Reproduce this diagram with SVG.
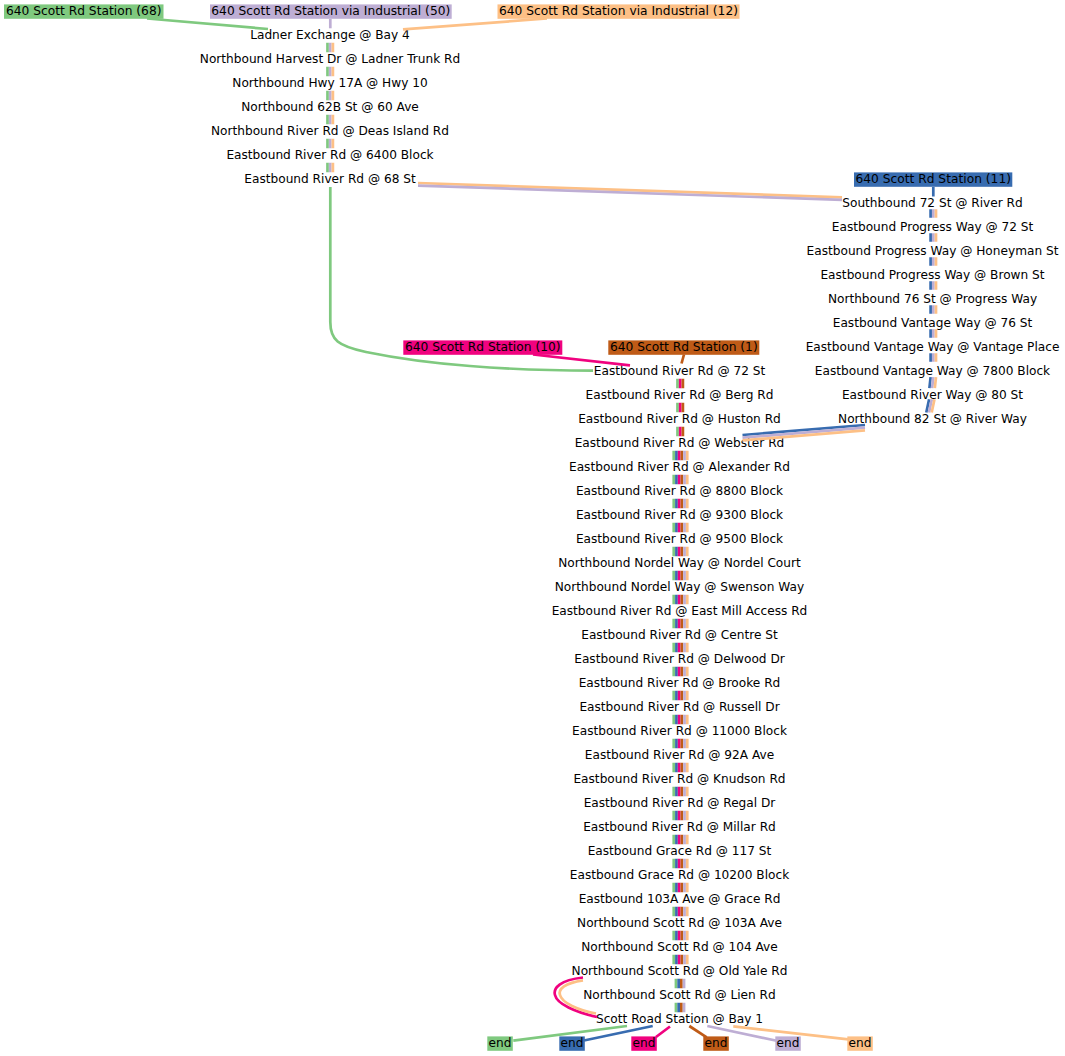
<svg xmlns="http://www.w3.org/2000/svg" width="1065" height="1056" viewBox="0 0 1065 1056">
<style>
text{font-family:"DejaVu Sans","Liberation Sans",sans-serif;font-size:12.15px;fill:#000;text-anchor:middle}
.hd text{font-size:12.25px}
.ln{fill:none;stroke-width:2.7}
.bar{fill:none;stroke-width:2.7}
.lft{stroke-dasharray:9.5 14.5}
.rgt{stroke-dasharray:8.5 15.5}
.g{stroke:#7fc97f}.p{stroke:#beaed4}.o{stroke:#fdc086}.b{stroke:#386cb0}.m{stroke:#f0027f}.r{stroke:#bf5b17}
.fg{fill:#7fc97f}.fp{fill:#beaed4}.fo{fill:#fdc086}.fb{fill:#386cb0}.fm{fill:#f0027f}.fr{fill:#bf5b17}
</style>
<rect width="1065" height="1056" fill="#fff"/>
<g id="nodes">
<g id="start-68" class="hd"><rect class="fg" x="4" y="4.4" width="159.5" height="14.4"/><text x="83.7" y="14.6">640 Scott Rd Station (68)</text></g>
<g id="start-50" class="hd"><rect class="fp" x="210" y="4.4" width="241.7" height="14.4"/><text x="330.8" y="14.6">640 Scott Rd Station via Industrial (50)</text></g>
<g id="start-12" class="hd"><rect class="fo" x="497.5" y="4.4" width="242" height="14.4"/><text x="618.5" y="14.6">640 Scott Rd Station via Industrial (12)</text></g>
<g id="start-11" class="hd"><rect class="fb" x="854" y="172.4" width="158.3" height="14.4"/><text x="933.2" y="182.6">640 Scott Rd Station (11)</text></g>
<g id="start-10" class="hd"><rect class="fm" x="403.3" y="340.4" width="159" height="14.4"/><text x="482.8" y="350.6">640 Scott Rd Station (10)</text></g>
<g id="start-1" class="hd"><rect class="fr" x="608.3" y="340.4" width="151" height="14.4"/><text x="683.8" y="350.6">640 Scott Rd Station (1)</text></g>

<g id="s-ladner"><text x="330" y="38.6">Ladner Exchange @ Bay 4</text></g>
<g id="s-harvest"><text x="330" y="62.6">Northbound Harvest Dr @ Ladner Trunk Rd</text></g>
<g id="s-hwy17a"><text x="330" y="86.6">Northbound Hwy 17A @ Hwy 10</text></g>
<g id="s-62b"><text x="330" y="110.6">Northbound 62B St @ 60 Ave</text></g>
<g id="s-deas"><text x="330" y="134.6">Northbound River Rd @ Deas Island Rd</text></g>
<g id="s-6400"><text x="330" y="158.6">Eastbound River Rd @ 6400 Block</text></g>
<g id="s-68st"><text x="330" y="182.6">Eastbound River Rd @ 68 St</text></g>

<g id="s-sb72"><text x="932.5" y="206.6">Southbound 72 St @ River Rd</text></g>
<g id="s-prog72"><text x="932.5" y="230.6">Eastbound Progress Way @ 72 St</text></g>
<g id="s-honeyman"><text x="932.5" y="254.6">Eastbound Progress Way @ Honeyman St</text></g>
<g id="s-brown"><text x="932.5" y="278.6">Eastbound Progress Way @ Brown St</text></g>
<g id="s-76prog"><text x="932.5" y="302.6">Northbound 76 St @ Progress Way</text></g>
<g id="s-vant76"><text x="932.5" y="326.6">Eastbound Vantage Way @ 76 St</text></g>
<g id="s-vantpl"><text x="932.5" y="350.6">Eastbound Vantage Way @ Vantage Place</text></g>
<g id="s-7800"><text x="932.5" y="374.6">Eastbound Vantage Way @ 7800 Block</text></g>
<g id="s-rw80"><text x="932.5" y="398.6">Eastbound River Way @ 80 St</text></g>
<g id="s-82st"><text x="932.5" y="422.6">Northbound 82 St @ River Way</text></g>

<g id="s-72st"><text x="679.5" y="374.6">Eastbound River Rd @ 72 St</text></g>
<g id="s-berg"><text x="679.5" y="398.6">Eastbound River Rd @ Berg Rd</text></g>
<g id="s-huston"><text x="679.5" y="422.6">Eastbound River Rd @ Huston Rd</text></g>
<g id="s-webster"><text x="679.5" y="446.6">Eastbound River Rd @ Webster Rd</text></g>
<g id="s-alexander"><text x="679.5" y="470.6">Eastbound River Rd @ Alexander Rd</text></g>
<g id="s-8800"><text x="679.5" y="494.6">Eastbound River Rd @ 8800 Block</text></g>
<g id="s-9300"><text x="679.5" y="518.6">Eastbound River Rd @ 9300 Block</text></g>
<g id="s-9500"><text x="679.5" y="542.6">Eastbound River Rd @ 9500 Block</text></g>
<g id="s-nordel"><text x="679.5" y="566.6">Northbound Nordel Way @ Nordel Court</text></g>
<g id="s-swenson"><text x="679.5" y="590.6">Northbound Nordel Way @ Swenson Way</text></g>
<g id="s-eastmill"><text x="679.5" y="614.6">Eastbound River Rd @ East Mill Access Rd</text></g>
<g id="s-centre"><text x="679.5" y="638.6">Eastbound River Rd @ Centre St</text></g>
<g id="s-delwood"><text x="679.5" y="662.6">Eastbound River Rd @ Delwood Dr</text></g>
<g id="s-brooke"><text x="679.5" y="686.6">Eastbound River Rd @ Brooke Rd</text></g>
<g id="s-russell"><text x="679.5" y="710.6">Eastbound River Rd @ Russell Dr</text></g>
<g id="s-11000"><text x="679.5" y="734.6">Eastbound River Rd @ 11000 Block</text></g>
<g id="s-92a"><text x="679.5" y="758.6">Eastbound River Rd @ 92A Ave</text></g>
<g id="s-knudson"><text x="679.5" y="782.6">Eastbound River Rd @ Knudson Rd</text></g>
<g id="s-regal"><text x="679.5" y="806.6">Eastbound River Rd @ Regal Dr</text></g>
<g id="s-millar"><text x="679.5" y="830.6">Eastbound River Rd @ Millar Rd</text></g>
<g id="s-grace117"><text x="679.5" y="854.6">Eastbound Grace Rd @ 117 St</text></g>
<g id="s-grace10200"><text x="679.5" y="878.6">Eastbound Grace Rd @ 10200 Block</text></g>
<g id="s-103a"><text x="679.5" y="902.6">Eastbound 103A Ave @ Grace Rd</text></g>
<g id="s-scott103a"><text x="679.5" y="926.6">Northbound Scott Rd @ 103A Ave</text></g>
<g id="s-scott104"><text x="679.5" y="950.6">Northbound Scott Rd @ 104 Ave</text></g>
<g id="s-oldyale"><text x="679.5" y="974.6">Northbound Scott Rd @ Old Yale Rd</text></g>
<g id="s-lien"><text x="679.5" y="998.6">Northbound Scott Rd @ Lien Rd</text></g>
<g id="s-bay1"><text x="679.5" y="1022.6">Scott Road Station @ Bay 1</text></g>

<g id="end-68"><rect class="fg" x="487.3" y="1036.4" width="25.5" height="14.4"/><text x="500" y="1046.6">end</text></g>
<g id="end-11"><rect class="fb" x="559.3" y="1036.4" width="25.5" height="14.4"/><text x="572" y="1046.6">end</text></g>
<g id="end-10"><rect class="fm" x="631.3" y="1036.4" width="25.5" height="14.4"/><text x="644" y="1046.6">end</text></g>
<g id="end-1"><rect class="fr" x="703.3" y="1036.4" width="25.5" height="14.4"/><text x="716" y="1046.6">end</text></g>
<g id="end-50"><rect class="fp" x="775.3" y="1036.4" width="25.5" height="14.4"/><text x="788" y="1046.6">end</text></g>
<g id="end-12"><rect class="fo" x="847.3" y="1036.4" width="25.5" height="14.4"/><text x="860" y="1046.6">end</text></g>
</g>

<g id="connectors">
<path class="ln g" d="M147,18.5 L268,29"/>
<path class="ln p" d="M330.3,19 V28.3"/>
<path class="ln o" d="M547,18.5 L403,29.3"/>
<path class="ln b" d="M933.3,187 V196.5"/>
<path class="ln m" d="M533,354.5 L630,365.3"/>
<path class="ln r" d="M684,354.5 L681.5,363.5"/>
<path class="bar lft g" d="M327.5,42.7 V172.2"/>
<path class="bar lft p" d="M330.2,42.7 V172.2"/>
<path class="bar lft o" d="M332.9,42.7 V172.2"/>
<path class="ln o" d="M418,183 L842,197.3"/>
<path class="ln p" d="M418,185.6 L842,199.9"/>
<path class="ln g" d="M330.3,187 V322 C330.3,340 338,346 366,352 C400,359 430,363 470,366 C520,370 560,370.6 593,370.6"/>
<path class="bar rgt b" d="M930.6,209.2 V361.7"/>
<path class="bar rgt p" d="M933.3,209.2 V361.7"/>
<path class="bar rgt o" d="M936,209.2 V361.7"/>
<path class="bar b" d="M930.6,377.2 L929.4,388.2 M929.1,399.3 L926.3,412.5"/>
<path class="bar p" d="M933.3,377.2 L932.1,388.2 M931.8,399.3 L929,412.5"/>
<path class="bar o" d="M936,377.2 L934.8,388.2 M934.5,399.3 L931.7,412.5"/>
<path class="ln b" d="M865,425 L742.5,435"/>
<path class="ln p" d="M865,427.7 L742.5,437.7"/>
<path class="ln o" d="M865,430.4 L742.5,440.4"/>
<path class="bar lft g" d="M677.5,378.7 V436.2"/>
<path class="bar lft m" d="M680.2,378.7 V436.2"/>
<path class="bar lft r" d="M682.9,378.7 V436.2"/>
<path class="bar lft g" d="M673.75,450.7 V964.2"/>
<path class="bar lft b" d="M676.45,450.7 V964.2"/>
<path class="bar lft m" d="M679.15,450.7 V964.2"/>
<path class="bar lft r" d="M681.85,450.7 V964.2"/>
<path class="bar lft p" d="M684.55,450.7 V964.2"/>
<path class="bar lft o" d="M687.25,450.7 V964.2"/>
<path class="bar lft g" d="M675.95,978.7 V1012.2"/>
<path class="bar lft b" d="M678.65,978.7 V1012.2"/>
<path class="bar lft r" d="M681.35,978.7 V1012.2"/>
<path class="bar lft p" d="M684.05,978.7 V1012.2"/>
<path class="ln m" d="M583,977.5 C560,980 553,988 555,995 C557,1004 575,1012 597,1017"/>
<path class="ln o" d="M583,980.3 C565,983 558,989 560,995 C562,1003 578,1010 596,1013.5"/>
<path class="ln g" d="M627,1026 L513.3,1040.7"/>
<path class="ln b" d="M652.7,1026 L584,1040.5"/>
<path class="ln m" d="M670,1026.5 L656,1037"/>
<path class="ln r" d="M689.3,1026 L706.7,1037.3"/>
<path class="ln p" d="M707.3,1026 L776.7,1040.7"/>
<path class="ln o" d="M733.3,1026.3 L848.3,1039.3"/>
</g>
</svg>
